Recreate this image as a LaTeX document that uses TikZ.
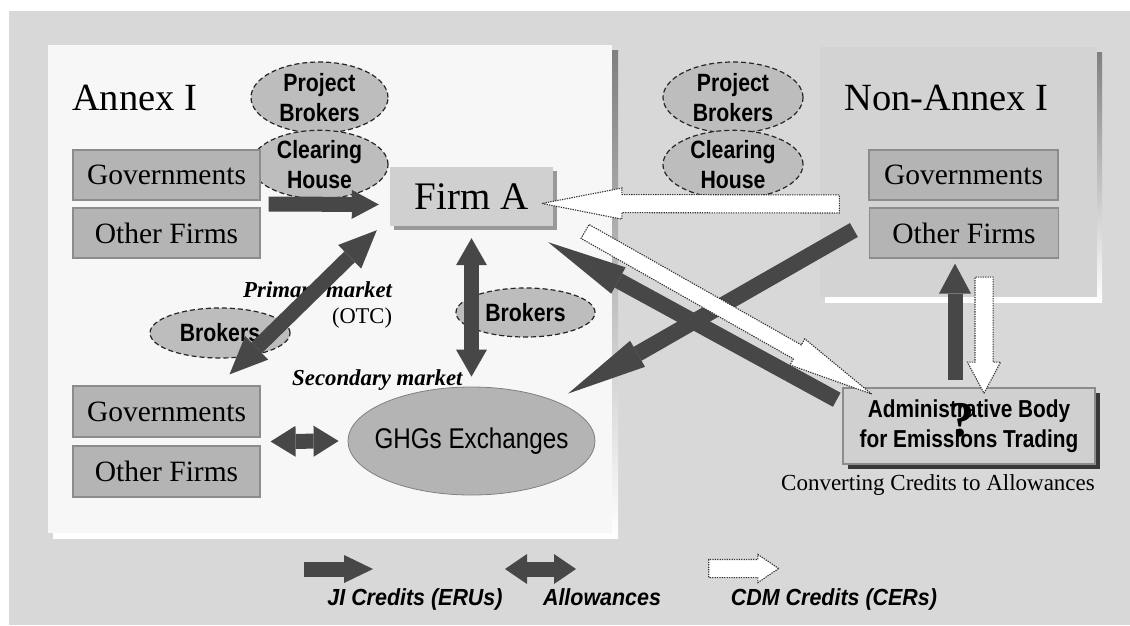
\documentclass[tikz,border=0pt]{standalone}
\usepackage{fontspec}
\setmainfont{Liberation Serif}
\newfontfamily\sansnarrow{Liberation Sans}[FakeStretch=0.85]
\newfontfamily\sanslegend{Liberation Sans}[FakeStretch=0.92]
\usetikzlibrary{arrows.meta,shapes.geometric,shapes.arrows,calc,shadows,positioning}

\definecolor{texture}{HTML}{D8D8D8}
\definecolor{panelwhite}{HTML}{F7F7F7}
\definecolor{panelgray}{HTML}{D3D3D3}
\definecolor{shade}{HTML}{A6A6A6}
\definecolor{boxgray}{HTML}{B4B4B4}
\definecolor{boxedge}{HTML}{8C8C8C}
\definecolor{ovalgray}{HTML}{BDBDBD}
\definecolor{firmgray}{HTML}{D0D0D0}
\definecolor{darkarrow}{HTML}{474747}

\tikzset{
  party/.style={draw=boxedge, line width=1.2pt, fill=boxgray, inner sep=0pt,
    minimum width=187pt, minimum height=50pt, font=\fontsize{29.5}{30}\selectfont},
  broker/.style={ellipse, draw=black!85, line width=1.2pt, dash pattern=on 5pt off 3pt,
    fill=ovalgray, inner sep=0pt, align=center,
    font=\sansnarrow\bfseries\fontsize{25}{30}\selectfont},
  jiarrow/.style 2 args={draw=darkarrow, line width=15pt,
    -{Triangle[length=#1,width=#2,line width=0pt]}},
  allowarrow/.style 2 args={draw=darkarrow, line width=15pt,
    {Triangle[length=#1,width=#2,line width=0pt]}-{Triangle[length=#1,width=#2,line width=0pt]}},
  cdm/.style={single arrow, draw=black!80, line width=1.1pt, dash pattern=on 1.3pt off 1.1pt,
    fill=white, inner xsep=0pt, text height=0pt, text depth=0pt},
  market/.style={inner sep=0pt, font=\bfseries\itshape\fontsize{22.8}{24}\selectfont},
  legendtext/.style={font=\sanslegend\bfseries\itshape\fontsize{23.3}{24}\selectfont},
}

\newcommand{\cdmarrow}[4]{%
  \path let \p1=($(#4)-(#3)$), \n1={atan2(\y1,\x1)}, \n2={veclen(\x1,\y1)} in
    node[cdm, #1, rotate=\n1, minimum height=\n2] (#2) at ($(#3)!0.5!(#4)$) {};}

\begin{document}
\begin{tikzpicture}[x=1pt, y=-1pt]
  \useasboundingbox (0,0) rectangle (1130,625);
  \fill[white] (0,0) rectangle (1130,625);
  \fill[texture] (9,11) rectangle (1130,625);

  \fill[shade] (53,50) rectangle (618,538);
  \fill[panelwhite] (48,45) rectangle (612,533);
  \fill[shade] (825,52) rectangle (1102,302);
  \fill[panelgray] (820,47) rectangle (1097,297);

  \node[anchor=base west, inner sep=0pt, font=\fontsize{38.5}{40}\selectfont] (annexI) at (72,110) {Annex I};
  \node[anchor=base west, inner sep=0pt, font=\fontsize{38.5}{40}\selectfont] (nonannexI) at (844,110) {Non-Annex I};

  \node[broker, minimum width=137pt, minimum height=71pt] (pbL) at (319.5,97.5) {Project\\Brokers};
  \node[broker, minimum width=137pt, minimum height=66pt] (chL) at (319.5,164.5) {Clearing\\House};
  \node[broker, minimum width=140pt, minimum height=71pt] (pbR) at (733,97.5) {Project\\Brokers};
  \node[broker, minimum width=140pt, minimum height=66pt] (chR) at (733,164.5) {Clearing\\House};

  \node[party] (govL) at (166.5,175) {Governments};
  \node[party] (othL) at (166.5,233) {Other Firms};
  \node[party, minimum width=189pt] (govR) at (963.5,175) {Governments};
  \node[party, minimum width=189pt] (othR) at (964,233) {Other Firms};
  \node[party, minimum height=51pt] (govB) at (166.5,411.5) {Governments};
  \node[party, minimum height=51pt] (othB) at (166.5,471.5) {Other Firms};

  \node[fill=firmgray, minimum width=163pt, minimum height=59pt, font=\fontsize{39}{40}\selectfont,
    drop shadow={shadow xshift=4pt, shadow yshift=-4pt, fill=black!40, opacity=1}] (firmA) at (471.5,196.5) {Firm A};

  \node[broker, minimum width=140pt, minimum height=50pt] (brkL) at (220,333) {Brokers};
  \node[broker, minimum width=139pt, minimum height=49pt] (brkM) at (525.5,312.5) {Brokers};
  \node[ellipse, draw=black!50, line width=0.8pt, fill=boxgray, minimum width=247pt, minimum height=108pt,
    label={[font=\sansnarrow\fontsize{28.5}{30}\selectfont]center:GHGs Exchanges}] (ghg) at (471.5,441) {};

  \node[draw=black!45, line width=2.5pt, fill=firmgray, minimum width=252pt, minimum height=76pt, align=center,
    font=\sansnarrow\bfseries\fontsize{24.5}{30}\selectfont,
    drop shadow={shadow xshift=5pt, shadow yshift=-5pt, fill=black!78, opacity=1}] (admin) at (969,426)
    {Administrative Body\\for Emissions Trading};
  \node[below=9pt of admin, xshift=-31pt, inner sep=0pt, font=\fontsize{23}{24}\selectfont] (convert) {Converting Credits to Allowances};

  \node[market, anchor=base west] (primary) at (243,297) {Primary market};
  \node[inner sep=0pt, font=\fontsize{22.5}{24}\selectfont] (otc) at (362,318) {(OTC)};
  \node[market, anchor=base west] (secondary) at (292,385) {Secondary market};

  \coordinate (jiS) at ($(govL.south east)!.5!(othL.north east)+(8,0)$);
  \coordinate (jiE) at ($(firmA.west)+(-11,8)$);
  \coordinate (primS) at ($(govB.north)+(63,-11)$);
  \coordinate (primE) at ($(firmA.south west)+(-13,4)$);
  \coordinate (horS) at ($(govB.south east)!.5!(othB.north east)+(10,0)$);
  \coordinate (cdmTopS) at ($(govR.south west)!.5!(othR.north west)+(-6,0)$);
  \coordinate (cdmTopE) at ($(firmA.east)+(12,7)$);
  \coordinate (cdmMidS) at ($(firmA.south east)+(12,-6)$);
  \coordinate (cdmMidE) at ($(admin.north west)+(10,-4)$);
  \coordinate (cdmDownS) at ($(othR.south)+(20,10)$);
  \coordinate (cdmDownE) at ($(admin.north)+(15,-2)$);

  \draw[jiarrow={27pt}{29pt}] (jiS) -- (jiE);
  \draw[allowarrow={38pt}{33pt}] (primS) -- (primE);
  \draw[allowarrow={27pt}{31pt}] ($(firmA.south)+(0,12)$) -- ($(ghg.north)+(0,-10)$);
  \draw[allowarrow={25pt}{31pt}] (horS) -- ($(ghg.west)+(-9,0)$);
  \draw[jiarrow={30pt}{32pt}] ($(admin.north)+(-14,-7)$) -- ($(othR.south)+(-9,5)$);
  \draw[jiarrow={80pt}{30pt}, line width=16pt] ($(othR.west)+(-15,-3)$) -- ($(ghg.north east)+(9,-9)$);
  \cdmarrow{inner ysep=8.5pt, single arrow head extend=6.5pt, single arrow tip angle=22}{cdmTop}{cdmTopS}{cdmTopE}
  \cdmarrow{inner ysep=7.5pt, single arrow head extend=7pt, single arrow tip angle=20}{cdmMid}{cdmMidS}{cdmMidE}
  \draw[jiarrow={80pt}{30pt}, line width=16pt] ($(admin.north west)+(-5,13)$) -- ($(firmA.south east)+(-5,16)$);
  \cdmarrow{inner ysep=8.5pt, single arrow head extend=7.5pt, single arrow tip angle=56}{cdmDown}{cdmDownS}{cdmDownE}

  \node[font=\bfseries\fontsize{50}{50}\selectfont, inner sep=0pt] (query) at (962,420) {?};

  \coordinate (legJIs) at (304,569);
  \coordinate (legJIe) at (373,569);
  \coordinate (legALs) at (505,569);
  \coordinate (legALe) at (576,569);
  \coordinate (legCDMs) at (702,568.5);
  \coordinate (legCDMe) at (772,568.5);
  \draw[jiarrow={29pt}{28pt}] (legJIs) -- (legJIe);
  \draw[allowarrow={22pt}{30pt}] (legALs) -- (legALe);
  \cdmarrow{inner ysep=8.5pt, single arrow head extend=5pt, single arrow tip angle=68}{legCDM}{legCDMs}{legCDMe}
  \node[legendtext, anchor=base] (legJI) at (415,605) {JI Credits (ERUs)};
  \node[legendtext, anchor=base] (legAL) at (602,605) {Allowances};
  \node[legendtext, anchor=base] (legCDMtext) at (834,605) {CDM Credits (CERs)};
\end{tikzpicture}
\end{document}
